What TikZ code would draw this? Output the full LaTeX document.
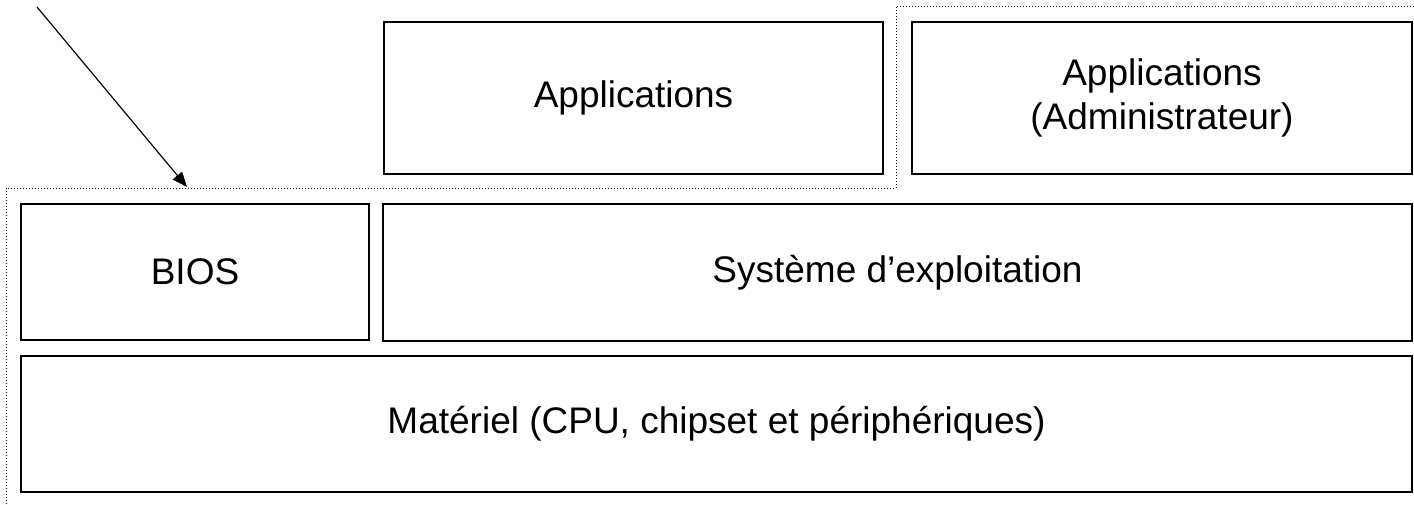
\documentclass[tikz,border=0pt]{standalone}
\usepackage{fontspec}
\setmainfont{Liberation Sans}
\usetikzlibrary{arrows.meta}
\begin{document}
\begin{tikzpicture}[x=0.5pt,y=-0.5pt,
  layer/.style={draw,line width=1pt,inner sep=0pt,align=center,
    font=\fontsize{18.5}{22}\selectfont},
  zone/.style={line width=0.5pt,dash pattern=on 0.5pt off 1pt}]
\useasboundingbox (0,0) rectangle (1414,504);
% couches
\node[layer,minimum width=249.5pt,minimum height=76pt] (apps) at (633.5,98) {Applications};
\node[layer,minimum width=250pt,minimum height=76pt] (admin) at (1162,98) {Applications\\(Administrateur)};
\node[layer,minimum width=174pt,minimum height=68pt] (bios) at (195,272) {BIOS};
\node[layer,minimum width=514.5pt,minimum height=68.5pt] (os) at (897.5,272.5) {Système d’exploitation};
\node[layer,minimum width=695.5pt,minimum height=68pt] (hw) at (716.5,424) {Matériel (CPU, chipset et périphériques)};
% zone en pointilles
\draw[zone] (6,504) -- (6,188) -- (896,188) -- (896,6) -- (1414,6);
\coordinate (from) at (37,7);
\coordinate (to) at (187,187);
\draw[line width=0.6pt,-{Triangle[length=7.5pt,width=6pt]}] (from) -- (to);
\end{tikzpicture}
\end{document}
